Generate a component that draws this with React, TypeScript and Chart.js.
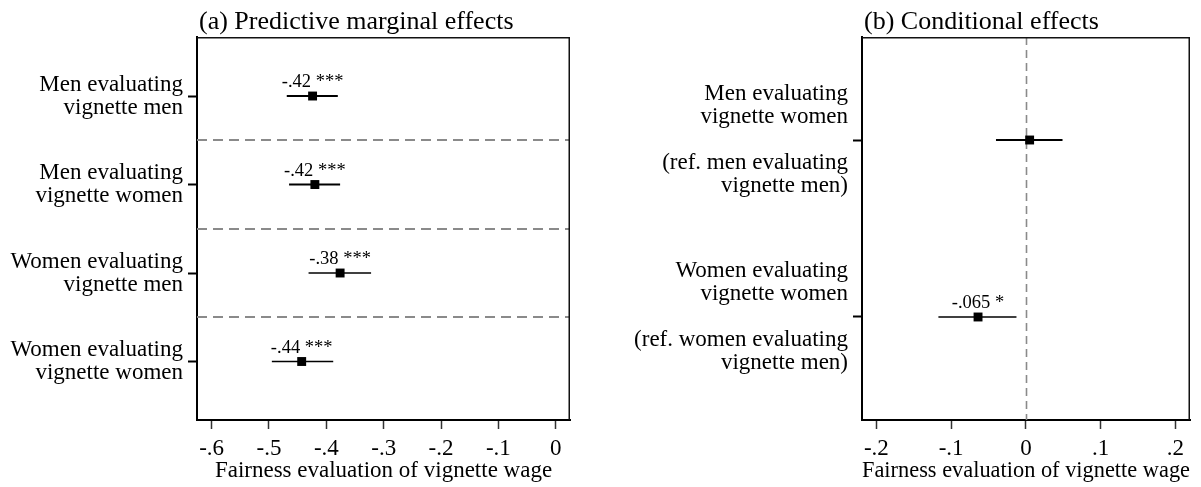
import React, { useEffect, useRef } from "react";
import { Chart, registerables } from "chart.js";

Chart.register(...registerables);

const SERIF = "'Liberation Serif', 'Times New Roman', Times, serif";
Chart.defaults.font.family = SERIF;
Chart.defaults.color = "#000";

// ---------- Panel (a): predictive marginal effects ----------
const titleA = "(a) Predictive marginal effects";
const categoriesA: string[][] = [
  ["Men evaluating", "vignette men"],
  ["Men evaluating", "vignette women"],
  ["Women evaluating", "vignette men"],
  ["Women evaluating", "vignette women"],
];
const rowsA = [1, 2, 3, 4];
const estimatesA = [-0.424, -0.42, -0.376, -0.443];
const lowerA = [-0.469, -0.465, -0.431, -0.495];
const upperA = [-0.38, -0.376, -0.322, -0.388];
const valueLabelsA = ["-.42 ***", "-.42 ***", "-.38 ***", "-.44 ***"];
const separatorsA = [1.5, 2.5, 3.5];
const xTicksA = [-0.6, -0.5, -0.4, -0.3, -0.2, -0.1, 0];
const xTickLabelsA = ["-.6", "-.5", "-.4", "-.3", "-.2", "-.1", "0"];
const xRangeA = [-0.6255, 0.0248];
const yRangeA = [0.333, 4.661];

// ---------- Panel (b): conditional effects ----------
const titleB = "(b) Conditional effects";
const categoriesB: string[][] = [
  ["Men evaluating", "vignette women", "", "(ref. men evaluating", "vignette men)"],
  ["Women evaluating", "vignette women", "", "(ref. women evaluating", "vignette men)"],
];
const rowsB = [1, 2];
const estimatesB = [0.005, -0.064];
const lowerB = [-0.04, -0.117];
const upperB = [0.049, -0.0126];
const valueLabelsB = ["", "-.065 *"];
const refLinesB = [0];
const xTicksB = [-0.2, -0.1, 0, 0.1, 0.2];
const xTickLabelsB = ["-.2", "-.1", "0", ".1", ".2"];
const xRangeB = [-0.2192, 0.2195];
const yRangeB = [0.418, 2.582];

const axisTitle = "Fairness evaluation of vignette wage";

// ---------- styles ----------
const ciWidthsA = [2, 2, 1.3, 1.3];
const ciWidthsB = [2, 1.3];

type Panel = {
  title: string;
  categories: string[][];
  rows: number[];
  estimates: number[];
  lower: number[];
  upper: number[];
  valueLabels: string[];
  hLines: number[];
  vLines: number[];
  xTicks: number[];
  xTickLabels: string[];
  xRange: number[];
  yRange: number[];
  ciWidths: number[];
  yAxisWidth: number;
  padRight: number;
};

const panelA: Panel = {
  title: titleA,
  categories: categoriesA,
  rows: rowsA,
  estimates: estimatesA,
  lower: lowerA,
  upper: upperA,
  valueLabels: valueLabelsA,
  hLines: separatorsA,
  vLines: [],
  xTicks: xTicksA,
  xTickLabels: xTickLabelsA,
  xRange: xRangeA,
  yRange: yRangeA,
  ciWidths: ciWidthsA,
  yAxisWidth: 197,
  padRight: 30,
};

const panelB: Panel = {
  title: titleB,
  categories: categoriesB,
  rows: rowsB,
  estimates: estimatesB,
  lower: lowerB,
  upper: upperB,
  valueLabels: valueLabelsB,
  hLines: [],
  vLines: refLinesB,
  xTicks: xTicksB,
  xTickLabels: xTickLabelsB,
  xRange: xRangeB,
  yRange: yRangeB,
  ciWidths: ciWidthsB,
  yAxisWidth: 262,
  padRight: 11,
};

const decorPlugin = {
  id: "panelDecor",
  beforeDatasetsDraw(chart: any, _args: any, opts: any) {
    const { ctx, chartArea: a, scales } = chart;
    const x = scales.x;
    const y = scales.y;
    ctx.save();
    ctx.strokeStyle = "#8a8a8a";
    ctx.lineWidth = 2;
    ctx.setLineDash([10, 6]);
    (opts.hLines || []).forEach((v: number) => {
      const py = Math.round(y.getPixelForValue(v));
      ctx.beginPath();
      ctx.moveTo(a.left, py);
      ctx.lineTo(a.right, py);
      ctx.stroke();
    });
    ctx.lineWidth = 1.6;
    ctx.setLineDash([8, 5]);
    (opts.vLines || []).forEach((v: number) => {
      const px = Math.round(x.getPixelForValue(v)) + 0.5;
      ctx.beginPath();
      ctx.moveTo(px, a.top);
      ctx.lineTo(px, a.bottom);
      ctx.stroke();
    });
    ctx.restore();
  },
  afterDraw(chart: any, _args: any, opts: any) {
    const { ctx, chartArea: a, scales } = chart;
    const x = scales.x;
    const y = scales.y;
    ctx.save();
    // frame top + right
    ctx.strokeStyle = "#111";
    ctx.lineWidth = 1.5;
    ctx.beginPath();
    ctx.moveTo(a.left, a.top + 0.75);
    ctx.lineTo(a.right - 0.75, a.top + 0.75);
    ctx.lineTo(a.right - 0.75, a.bottom);
    ctx.stroke();
    // panel title
    ctx.fillStyle = "#000";
    ctx.font = `26px ${SERIF}`;
    ctx.textAlign = "left";
    ctx.textBaseline = "alphabetic";
    ctx.fillText(opts.title, a.left + 2, a.top - 8);
    // value labels
    ctx.font = `18.5px ${SERIF}`;
    ctx.textAlign = "center";
    (opts.valueLabels || []).forEach((t: string, i: number) => {
      if (!t) return;
      ctx.fillText(t, x.getPixelForValue(opts.estimates[i]), y.getPixelForValue(opts.rows[i]) - 9);
    });
    ctx.restore();
  },
};

function buildConfig(p: Panel): any {
  const datasets: any[] = [];
  p.rows.forEach((r, i) => {
    datasets.push({
      data: [
        { x: p.lower[i], y: r },
        { x: p.upper[i], y: r },
      ],
      showLine: true,
      borderColor: "#000",
      borderWidth: p.ciWidths[i],
      pointRadius: 0,
      pointHoverRadius: 0,
      fill: false,
    });
  });
  datasets.push({
    data: p.rows.map((r, i) => ({ x: p.estimates[i], y: r })),
    showLine: false,
    pointStyle: "rect",
    pointRadius: 6.3,
    pointHoverRadius: 6.3,
    pointBackgroundColor: "#000",
    pointBorderColor: "#000",
    pointBorderWidth: 0,
  });

  return {
    type: "scatter",
    data: { datasets },
    options: {
      responsive: false,
      maintainAspectRatio: false,
      animation: false,
      devicePixelRatio: 1,
      events: [],
      layout: { padding: { top: 37, right: p.padRight, left: 0, bottom: 0 } },
      plugins: {
        legend: { display: false },
        tooltip: { enabled: false },
        title: { display: false },
        panelDecor: {
          title: p.title,
          hLines: p.hLines,
          vLines: p.vLines,
          valueLabels: p.valueLabels,
          estimates: p.estimates,
          rows: p.rows,
        },
      },
      scales: {
        x: {
          type: "linear",
          min: p.xRange[0],
          max: p.xRange[1],
          afterBuildTicks: (s: any) => {
            s.ticks = p.xTicks.map((v) => ({ value: v }));
          },
          afterFit: (s: any) => {
            s.height = 67;
            s.paddingLeft = 0;
            s.paddingRight = 0;
          },
          ticks: {
            autoSkip: false,
            maxRotation: 0,
            padding: 6,
            color: "#000",
            font: { family: SERIF, size: 23, lineHeight: 1.2 },
            callback: (_v: any, i: number) => p.xTickLabels[i],
          },
          grid: {
            display: true,
            drawOnChartArea: false,
            drawTicks: true,
            tickLength: 9,
            tickColor: "#333",
            tickWidth: 1.5,
          },
          border: { display: true, color: "#000", width: 2 },
          title: {
            display: true,
            text: axisTitle,
            color: "#000",
            font: { family: SERIF, size: 23, lineHeight: 1.2 },
            padding: { top: 0, bottom: 2 },
          },
        },
        y: {
          type: "linear",
          reverse: true,
          min: p.yRange[0],
          max: p.yRange[1],
          afterBuildTicks: (s: any) => {
            s.ticks = p.rows.map((v) => ({ value: v }));
          },
          afterFit: (s: any) => {
            s.width = p.yAxisWidth;
            s.paddingTop = 0;
            s.paddingBottom = 0;
          },
          ticks: {
            autoSkip: false,
            padding: 5,
            color: "#000",
            font: { family: SERIF, size: 23, lineHeight: 1.0 },
            callback: (_v: any, i: number) => p.categories[i],
          },
          grid: {
            display: true,
            drawOnChartArea: false,
            drawTicks: true,
            tickLength: 9,
            tickColor: "#000",
            tickWidth: 2,
          },
          border: { display: true, color: "#000", width: 2 },
        },
      },
    },
    plugins: [decorPlugin],
  };
}

export default function App() {
  const refA = useRef<HTMLCanvasElement>(null);
  const refB = useRef<HTMLCanvasElement>(null);

  useEffect(() => {
    document.body.style.margin = "0";
    const ca = new Chart(refA.current as HTMLCanvasElement, buildConfig(panelA));
    const cb = new Chart(refB.current as HTMLCanvasElement, buildConfig(panelB));
    return () => {
      ca.destroy();
      cb.destroy();
    };
  }, []);

  return (
    <div
      style={{
        position: "fixed",
        left: 0,
        top: 0,
        width: 1201,
        height: 487,
        background: "#fff",
        overflow: "hidden",
      }}
    >
      <canvas
        ref={refA}
        width={600}
        height={487}
        style={{ position: "absolute", left: 0, top: 0, width: 600, height: 487 }}
      />
      <canvas
        ref={refB}
        width={601}
        height={487}
        style={{ position: "absolute", left: 600, top: 0, width: 601, height: 487 }}
      />
    </div>
  );
}
